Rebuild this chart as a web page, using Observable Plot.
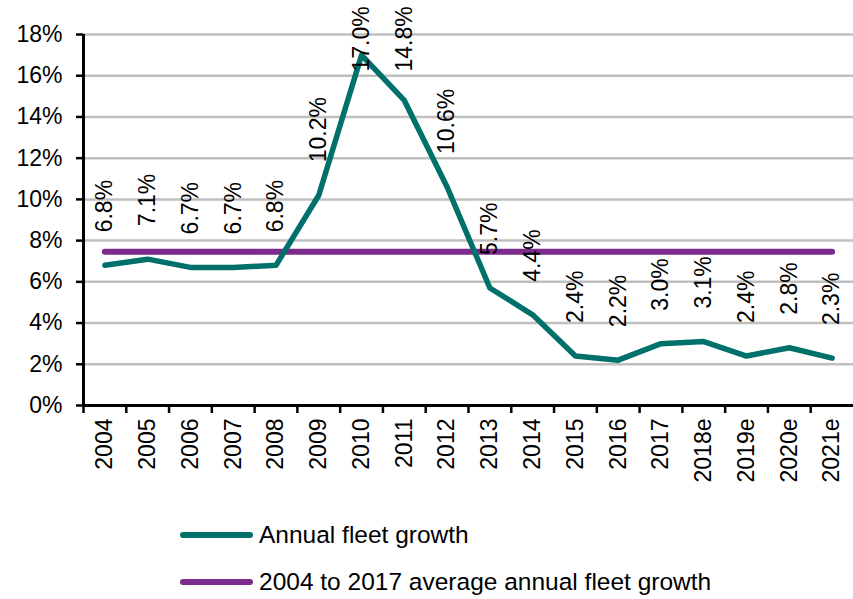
<!DOCTYPE html>
<html>
<head>
<meta charset="utf-8">
<script src="https://cdn.jsdelivr.net/npm/d3@7"></script>
<script src="https://cdn.jsdelivr.net/npm/@observablehq/plot@0.6"></script>
<style>
  html, body { margin: 0; padding: 0; background: #fff; }
  body { font-family: "Liberation Sans", Arial, sans-serif; color: #000; width: 853px; }
  #legend { position: relative; height: 109px; }
  .item { position: absolute; left: 178px; height: 30px; display: flex; align-items: center; font-size: 24.5px; }
  .item svg { display: block; margin-right: 4px; }
</style>
</head>
<body>
<div id="chart"></div>
<div id="legend"></div>
<script>
// Fleet growth by year (e = estimate)
const years = ["2004","2005","2006","2007","2008","2009","2010","2011","2012",
               "2013","2014","2015","2016","2017","2018e","2019e","2020e","2021e"];
const growth = [6.8, 7.1, 6.7, 6.7, 6.8, 10.2, 17.0, 14.8, 10.6,
                5.7, 4.4, 2.4, 2.2, 3.0, 3.1, 2.4, 2.8, 2.3];
const averageGrowth = 7.46;   // 2004–2017 average
const yTicks = [0, 2, 4, 6, 8, 10, 12, 14, 16, 18];
const seriesNames = ["Annual fleet growth", "2004 to 2017 average annual fleet growth"];

const teal = "#00706b";
const purple = "#7a2b8b";

const annual = years.map((year, i) => ({year, value: growth[i]}));
const average = years.map(year => ({year, value: averageGrowth}));

const W = 853, H = 490, mLeft = 83, mTop = 34, mBottom = 85;
const halfStep = (W - mLeft) / years.length / 2;
const font = "'Liberation Sans', Arial, sans-serif";

const chart = Plot.plot({
  width: W,
  height: H,
  marginLeft: mLeft,
  marginRight: 0,
  marginTop: mTop,
  marginBottom: mBottom,
  style: {fontFamily: font, fontSize: "23px", color: "#000", background: "#fff", overflow: "visible"},
  x: {type: "band", domain: years, padding: 0, round: false, axis: null, label: null},
  y: {domain: [0, 18], axis: null, label: null},
  marks: [
    Plot.gridY(yTicks, {stroke: "#bfbfbf", strokeOpacity: 1, strokeWidth: 2.5}),
    Plot.axisY(yTicks, {tickSize: 7, tickPadding: 14, tickFormat: d => d + "%", label: null,
                        stroke: "#000", strokeWidth: 2.5, fontSize: 23}),
    // category labels under each year
    Plot.axisX({tickSize: 0, tickPadding: 13, tickRotate: -90, fontSize: 23, label: null}),
    // tick marks between categories
    Plot.axisX({tickSize: 8, tickFormat: () => "", dx: -halfStep, label: null,
                stroke: "#000", strokeWidth: 2.5}),
    Plot.ruleX([years[0]], {dx: -halfStep, stroke: "#000", strokeWidth: 3}),
    Plot.ruleY([0], {stroke: "#000", strokeWidth: 3}),
    Plot.lineY(average, {x: "year", y: "value", stroke: purple, strokeWidth: 6, strokeLinecap: "round"}),
    Plot.lineY(annual, {x: "year", y: "value", stroke: teal, strokeWidth: 5.5,
                        strokeLinecap: "round", strokeLinejoin: "round"}),
    Plot.text(annual, {
      x: "year",
      y: d => Math.min(d.value, 14.6),
      text: d => d.value.toFixed(1) + "%",
      rotate: -90,
      textAnchor: "start",
      dy: -33,
      fontSize: 23,
      fill: "#000"
    })
  ]
});
document.getElementById("chart").appendChild(chart);

// legend below the chart
const legend = document.getElementById("legend");
[[teal, 45], [purple, 92]].forEach(([color, y], i) => {
  const item = document.createElement("div");
  item.className = "item";
  item.style.top = (y - 15) + "px";
  item.innerHTML = `<svg width="77" height="12"><line x1="5" y1="6" x2="72" y2="6" stroke="${color}" stroke-width="6" stroke-linecap="round"/></svg><span>${seriesNames[i]}</span>`;
  legend.appendChild(item);
});
</script>
</body>
</html>
